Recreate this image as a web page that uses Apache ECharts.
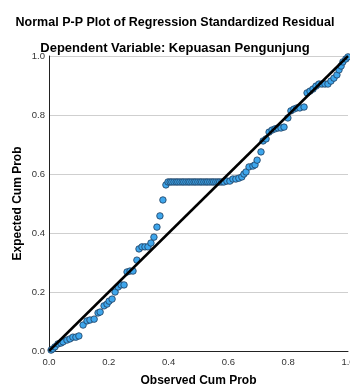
<!DOCTYPE html>
<html>
<head>
<meta charset="utf-8">
<script src="https://cdn.jsdelivr.net/npm/echarts@6/dist/echarts.min.js"></script>
<style>
  html, body { margin: 0; padding: 0; background: #fff; }
  #chart { width: 350px; height: 389px; }
</style>
</head>
<body>
<div id="chart"></div>
<script>
// observed cumulative probability (x) and expected cumulative probability (y)
var observed = [
  0.007, 0.013, 0.020, 0.030, 0.040, 0.047, 0.060, 0.070, 0.080, 0.090, 0.100,
  0.114, 0.127, 0.137, 0.151, 0.164, 0.171, 0.184, 0.194, 0.201, 0.211, 0.221,
  0.231, 0.241, 0.251, 0.261, 0.271, 0.281, 0.294, 0.301, 0.311, 0.321, 0.331,
  0.341, 0.351, 0.361, 0.371, 0.381, 0.391,
  0.398, 0.405, 0.411, 0.418, 0.425, 0.431, 0.438, 0.445, 0.451, 0.458, 0.465,
  0.471, 0.478, 0.485, 0.491, 0.498, 0.505, 0.511, 0.518, 0.525, 0.531, 0.538,
  0.545, 0.551, 0.558, 0.565, 0.571, 0.578,
  0.585, 0.595, 0.605, 0.615, 0.625, 0.635, 0.645, 0.652, 0.659, 0.669, 0.682,
  0.689, 0.696, 0.709, 0.716, 0.726, 0.736, 0.746, 0.756, 0.766, 0.776, 0.786,
  0.799, 0.809, 0.819, 0.829, 0.839, 0.853, 0.863, 0.873, 0.883, 0.893, 0.903,
  0.913, 0.923, 0.933, 0.943, 0.953, 0.963, 0.970, 0.977, 0.983, 0.993, 1.000
];
var expected = [
  0.003, 0.007, 0.014, 0.024, 0.027, 0.031, 0.037, 0.041, 0.047, 0.047, 0.051,
  0.088, 0.102, 0.105, 0.108, 0.129, 0.132, 0.153, 0.159, 0.169, 0.176, 0.200,
  0.217, 0.224, 0.224, 0.268, 0.271, 0.271, 0.308, 0.346, 0.353, 0.353, 0.353,
  0.366, 0.386, 0.420, 0.458, 0.512, 0.563,
  0.573, 0.573, 0.573, 0.573, 0.573, 0.573, 0.573, 0.573, 0.573, 0.573, 0.573,
  0.573, 0.573, 0.573, 0.573, 0.573, 0.573, 0.573, 0.573, 0.573, 0.573, 0.573,
  0.573, 0.573, 0.573, 0.573, 0.573, 0.573,
  0.573, 0.576, 0.576, 0.583, 0.583, 0.586, 0.590, 0.600, 0.607, 0.624, 0.627,
  0.631, 0.647, 0.675, 0.712, 0.719, 0.742, 0.749, 0.753, 0.756, 0.756, 0.759,
  0.790, 0.814, 0.820, 0.824, 0.824, 0.827, 0.875, 0.881, 0.888, 0.898, 0.905,
  0.905, 0.905, 0.905, 0.915, 0.925, 0.936, 0.953, 0.966, 0.980, 0.990, 0.997
];
var refLine = [[0, 0], [1, 1]];

var titleText = 'Normal P-P Plot of Regression Standardized Residual';
var subtitleText = 'Dependent Variable: Kepuasan Pengunjung';

var chart = echarts.init(document.getElementById('chart'));

var points = observed.map(function (x, i) {
    return [x, expected[i]];
});

var option = {
    animation: false,
    textStyle: { fontFamily: 'Liberation Sans, Arial, sans-serif' },
    title: [{
        text: titleText,
        left: 'center',
        top: 11,
        textStyle: { fontSize: 12.5, fontWeight: 'bold', color: '#000' }
    }, {
        text: subtitleText,
        left: 'center',
        top: 37,
        textStyle: { fontSize: 13, fontWeight: 'bold', color: '#000' }
    }],
    grid: { left: 49, right: 2, top: 56, bottom: 38, outerBoundsMode: 'none' },
    xAxis: {
        type: 'value',
        min: 0,
        max: 1,
        interval: 0.2,
        name: 'Observed Cum Prob',
        nameLocation: 'middle',
        nameGap: 24,
        nameTextStyle: { fontSize: 12, fontWeight: 'bold', color: '#000' },
        axisLine: { show: true, lineStyle: { color: '#222', width: 1 } },
        axisTick: { show: false },
        axisLabel: {
            fontSize: 9.5,
            color: '#333',
            margin: 6,
            formatter: function (v) { return v.toFixed(1); }
        },
        splitLine: { show: false }
    },
    yAxis: {
        type: 'value',
        min: 0,
        max: 1,
        interval: 0.2,
        name: 'Expected Cum Prob',
        nameLocation: 'middle',
        nameGap: 25,
        nameMoveOverlap: false,
        nameTextStyle: { fontSize: 12, fontWeight: 'bold', color: '#000' },
        axisLine: { show: true, lineStyle: { color: '#222', width: 1 } },
        axisTick: { show: false },
        axisLabel: {
            fontSize: 9.5,
            color: '#333',
            margin: 4,
            formatter: function (v) { return v.toFixed(1); }
        },
        splitLine: { show: true, lineStyle: { color: '#cfcfcf', width: 1 } }
    },
    series: [{
        type: 'scatter',
        data: points,
        symbol: 'circle',
        symbolSize: 6.5,
        itemStyle: { color: '#3ea6ec', borderColor: '#1d3b5c', borderWidth: 0.8, opacity: 1 },
        z: 2
    }, {
        type: 'line',
        data: refLine,
        showSymbol: false,
        lineStyle: { color: '#000', width: 2.5 },
        z: 3
    }]
};
chart.setOption(option);
</script>
</body>
</html>
